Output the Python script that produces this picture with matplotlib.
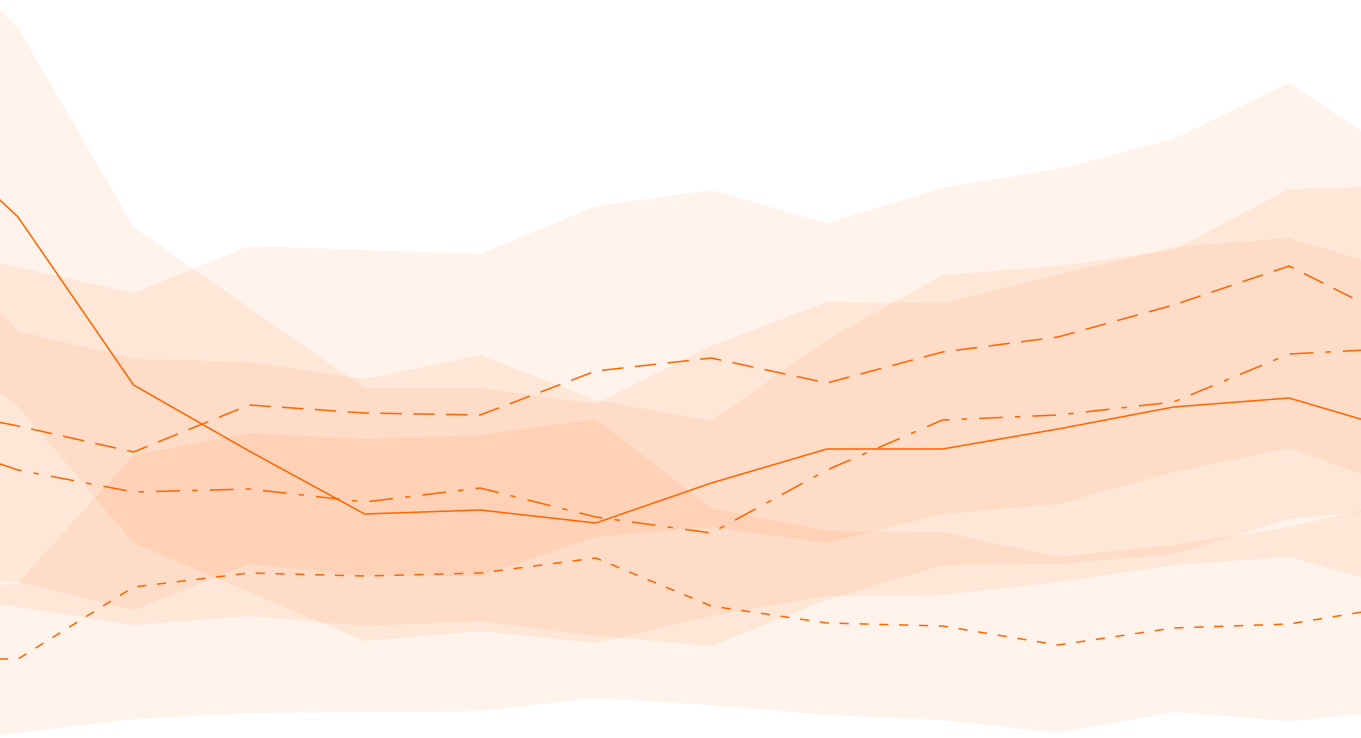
import matplotlib
matplotlib.use("Agg")
import matplotlib.pyplot as plt
import numpy as np

# sample positions
steps = list(range(14))

# series 1 (solid)
s1_mean = [63.0, 52.1, 35.3, 28.7, 22.4, 22.8, 21.5, 25.5, 28.9, 28.9, 30.9, 33.1, 34.0, 30.6]
s1_high = [82.6, 71.0, 51.1, 43.0, 35.0, 35.0, 33.4, 39.2, 43.6, 43.5, 46.3, 49.1, 50.0, 46.5]
s1_low = [41.5, 33.2, 19.5, 14.6, 9.7, 10.7, 9.5, 12.2, 14.2, 14.3, 15.6, 17.3, 18.1, 14.9]

# series 2 (long dashes)
s2_mean = [33.5, 31.2, 28.6, 33.3, 32.5, 32.3, 36.7, 38.0, 35.5, 38.6, 40.1, 43.3, 47.2, 41.4]
s2_high = [49.5, 47.1, 44.5, 49.2, 48.8, 48.4, 53.2, 54.8, 51.5, 55.0, 56.9, 59.9, 65.5, 57.8]
s2_low = [16.2, 15.6, 12.8, 17.4, 16.2, 16.2, 20.1, 21.1, 19.5, 22.4, 23.4, 26.6, 29.0, 24.8]

# series 3 (dash-dot)
s3_mean = [30.7, 26.8, 24.6, 24.9, 23.6, 25.0, 22.1, 20.5, 26.8, 31.8, 32.3, 33.6, 38.4, 39.0]
s3_high = [53.1, 40.7, 37.9, 37.6, 35.9, 38.3, 33.8, 31.7, 39.8, 46.3, 47.2, 48.8, 54.9, 55.2]
s3_low = [14.8, 13.1, 11.3, 12.2, 11.2, 11.7, 10.2, 9.2, 13.8, 17.3, 17.4, 18.4, 21.9, 23.0]

# series 4 (short dashes)
s4_mean = [7.9, 7.9, 15.1, 16.5, 16.2, 16.5, 18.0, 13.2, 11.5, 11.2, 9.3, 11.0, 11.4, 13.3]
s4_high = [14.2, 15.5, 28.3, 30.5, 29.9, 30.3, 31.9, 23.0, 20.7, 20.6, 18.1, 19.3, 21.1, 23.8]
s4_low = [-0.8, 0.5, 1.9, 2.5, 2.6, 2.7, 4.0, 3.3, 2.3, 1.8, 0.5, 2.6, 1.7, 2.8]

COLOR = "#ff6600"
BAND_ALPHA = 0.08

series = [
    (s1_mean, s1_low, s1_high, "-"),
    (s2_mean, s2_low, s2_high, (0, (14, 7.5))),
    (s3_mean, s3_low, s3_high, (0, (15.5, 8, 3.5, 8))),
    (s4_mean, s4_low, s4_high, (0, (6, 7))),
]

fig = plt.figure(figsize=(13.61, 7.38), dpi=100)
ax = fig.add_axes([0, 0, 1, 1])

x = np.array(steps)
# uncertainty bands first, then the central lines on top
for mean, low, high, style in series:
    ax.fill_between(x, low, high, color=COLOR, alpha=BAND_ALPHA, linewidth=0)
for mean, low, high, style in series:
    ax.plot(x, mean, color=COLOR, linewidth=1.1, linestyle=style)

ax.set_xlim(0.8442, 12.6226)
ax.set_ylim(0, 73.8)
ax.axis("off")

fig.savefig("out.png", dpi=100)
